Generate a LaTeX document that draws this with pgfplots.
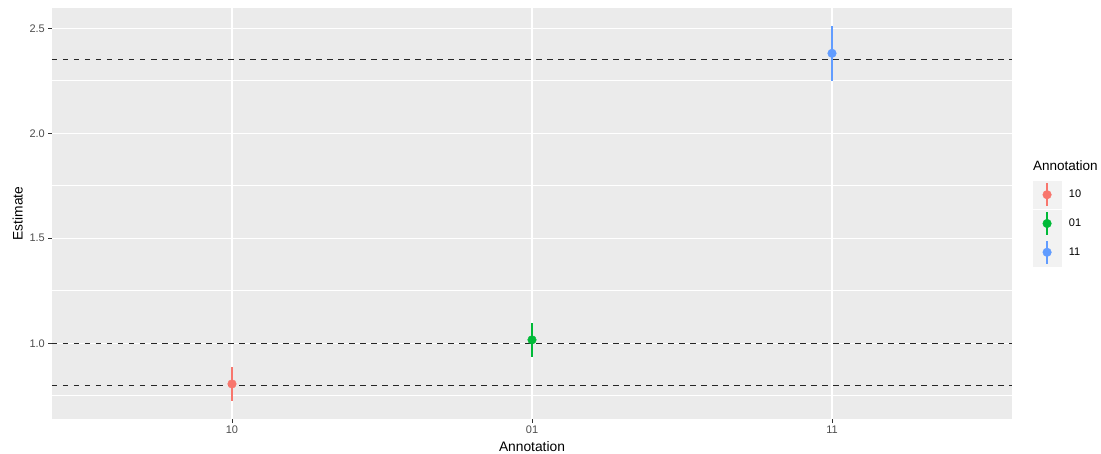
\documentclass[border=0pt]{standalone}
\usepackage{pgfplots}
\pgfplotsset{compat=1.18}
\usepackage{fontspec}
\setmainfont{Liberation Sans}
\definecolor{panel}{HTML}{EBEBEB}
\definecolor{legkey}{HTML}{F2F2F2}
\definecolor{tickc}{HTML}{4D4D4D}
\definecolor{tickm}{HTML}{333333}
\definecolor{cR}{HTML}{F8766D}
\definecolor{cG}{HTML}{00BA38}
\definecolor{cB}{HTML}{619CFF}
\begin{document}
\begin{tikzpicture}
\useasboundingbox (-52pt,-35pt) rectangle (1049pt,419pt);
\begin{axis}[
  scale only axis, width=960pt, height=411pt,
  xmin=0.4, xmax=3.6, ymin=0.639, ymax=2.597,
  axis background/.style={fill=panel},
  axis x line*=bottom, axis y line*=left,
  axis line style={draw=none},
  tick align=outside, major tick length=3.7pt, minor tick length=0pt,
  tick style={tickm, line width=0.8pt},
  xtick={1,2,3}, xticklabels={10,01,11},
  ytick={1,1.5,2,2.5}, yticklabels={1.0,1.5,2.0,2.5},
  minor ytick={0.75,1.25,1.75,2.25},
  grid=both,
  major grid style={white, line width=1.4pt},
  minor grid style={white, line width=0.7pt},
  tick label style={font=\fontsize{11}{13}\selectfont, text=tickc},
  yticklabel style={inner sep=0pt, xshift=-3.3pt},
  xticklabel style={inner sep=0pt, yshift=-3pt},
  xlabel={Annotation}, ylabel={Estimate},
  every axis x label/.style={at={(axis description cs:0.5,-0.0674)}, anchor=center, font=\fontsize{13.8}{16}\selectfont},
  every axis y label/.style={at={(axis description cs:-0.0357,0.5)}, rotate=90, anchor=center, font=\fontsize{13.8}{16}\selectfont},
  legend style={at={(axis description cs:1.0219,0.5798)}, anchor=north west,
    draw=none, fill=none, inner sep=0pt, row sep=1.2pt, column sep=8pt,
    font=\fontsize{11}{13}\selectfont,
    nodes={inner sep=0pt}},
  legend cell align=left,
  clip=false,
]
\addplot+[only marks, mark=*, color=cR, mark options={fill=cR, draw=cR}, mark size=4.3pt,
  legend image code/.code={
    \fill[legkey] (0pt,-13.6pt) rectangle (27.3pt,13.6pt);
    \draw[cR, line width=1.2pt] (13.65pt,-11.5pt) -- (13.65pt,11.5pt);
    \fill[cR] (13.65pt,0pt) circle (4.3pt);},
  error bars/.cd, y dir=both, y explicit, error mark=none,
  error bar style={line width=1.1pt, cR}]
  coordinates {(1,0.806) +- (0,0.080)};
\addlegendentry{10}
\addplot+[only marks, mark=*, color=cG, mark options={fill=cG, draw=cG}, mark size=4.3pt,
  legend image code/.code={
    \fill[legkey] (0pt,-13.6pt) rectangle (27.3pt,13.6pt);
    \draw[cG, line width=1.2pt] (13.65pt,-11.5pt) -- (13.65pt,11.5pt);
    \fill[cG] (13.65pt,0pt) circle (4.3pt);},
  error bars/.cd, y dir=both, y explicit, error mark=none,
  error bar style={line width=1.1pt, cG}]
  coordinates {(2,1.016) +- (0,0.081)};
\addlegendentry{01}
\addplot+[only marks, mark=*, color=cB, mark options={fill=cB, draw=cB}, mark size=4.3pt,
  legend image code/.code={
    \fill[legkey] (0pt,-13.6pt) rectangle (27.3pt,13.6pt);
    \draw[cB, line width=1.2pt] (13.65pt,-11.5pt) -- (13.65pt,11.5pt);
    \fill[cB] (13.65pt,0pt) circle (4.3pt);},
  error bars/.cd, y dir=both, y explicit, error mark=none,
  error bar style={line width=1.1pt, cB}]
  coordinates {(3,2.381) +- (0,0.130)};
\addlegendentry{11}
\addplot[black!85, line width=1.3pt, dash pattern=on 5.5pt off 5.5pt, forget plot] coordinates {(0.4,2.35) (3.6,2.35)};
\addplot[black!85, line width=1.3pt, dash pattern=on 5.5pt off 5.5pt, forget plot] coordinates {(0.4,1.0) (3.6,1.0)};
\addplot[black!85, line width=1.3pt, dash pattern=on 5.5pt off 5.5pt, forget plot] coordinates {(0.4,0.8) (3.6,0.8)};
\end{axis}
\node[anchor=west, inner sep=0pt, font=\fontsize{13.5}{16}\selectfont] at (981pt,253pt) {Annotation};
\end{tikzpicture}
\end{document}
